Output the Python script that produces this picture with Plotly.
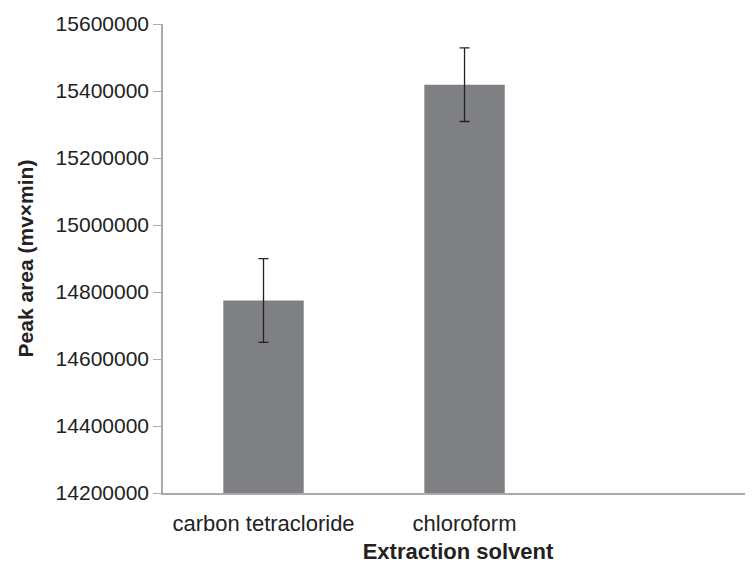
import plotly.graph_objects as go

solvents = ["carbon tetracloride", "chloroform"]
peak_area = [14774500, 15419000]
peak_err = [125000, 110000]

fig = go.Figure(go.Bar(
    x=[0, 1],
    y=peak_area,
    width=0.4,
    marker=dict(color="#7f8084", line=dict(width=0)),
    error_y=dict(type="data", array=peak_err, color="#222", thickness=1.3, width=5),
))

fig.update_layout(
    width=745, height=556,
    margin=dict(l=155, r=0, t=16, b=71),
    plot_bgcolor="white", paper_bgcolor="white",
    font=dict(family="Liberation Sans, Arial", size=21, color="#222"),
    showlegend=False,
)
fig.update_xaxes(
    range=[-0.5, 2.435], tickvals=[0, 1], ticktext=solvents,
    showline=True, linecolor="#aaa", linewidth=1.5, ticks="",
    showgrid=False, zeroline=False, tickfont=dict(size=22),
    ticklabelstandoff=10,
    title=dict(text="<b>Extraction solvent</b>", standoff=12, font=dict(size=22)),
)
fig.update_yaxes(
    range=[14200000, 15600000], dtick=200000, tickformat="d",
    showline=True, linecolor="#aaa", linewidth=1.5, ticks="outside",
    ticklen=8, tickcolor="#aaa", showgrid=False, zeroline=False,
    tickfont=dict(size=21),
    title=dict(text="<b>Peak area (mv×min)</b>", standoff=16, font=dict(size=21)),
)

fig.write_html("out.html")
